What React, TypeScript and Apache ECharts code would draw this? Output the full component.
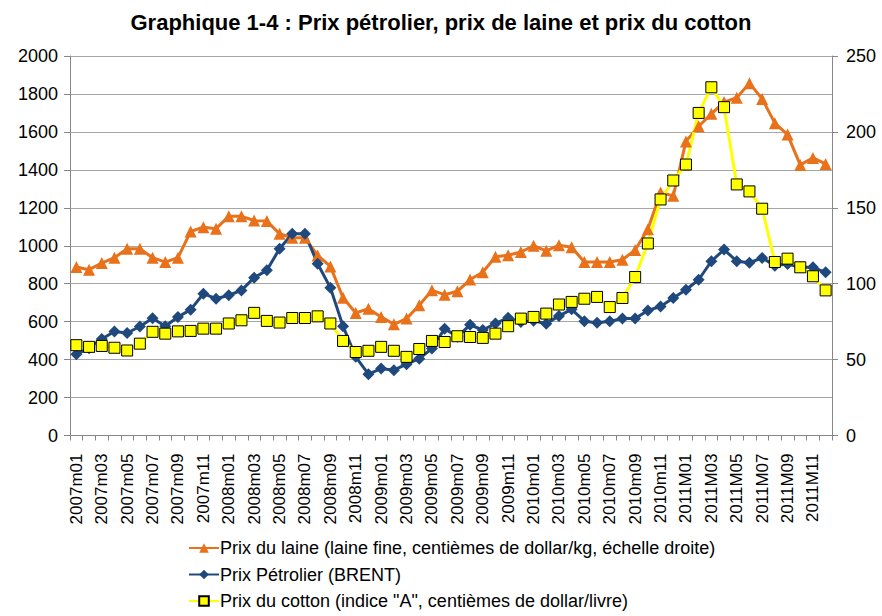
import React, { useEffect, useRef } from "react";
import * as echarts from "echarts";

const FONT = "'Liberation Sans Narrow', 'Liberation Sans', Arial, sans-serif";

const years = ["2007", "2008", "2009", "2010", "2011"];
const months = ["01", "02", "03", "04", "05", "06", "07", "08", "09", "10", "11", "12"];
const categories: string[] = [];
years.forEach((y) => months.forEach((m) => categories.push(y + (y === "2011" ? "M" : "m") + m)));

// Wool price (left axis)
const woolPrice = [888, 874, 909, 937, 984, 984, 937, 914, 937, 1075, 1098, 1090, 1155, 1155, 1133, 1130, 1063, 1042, 1042, 949, 891, 726, 646, 668, 625, 586, 616, 686, 765, 742, 760, 822, 860, 942, 950, 967, 1000, 973, 1003, 992, 914, 914, 914, 926, 978, 1087, 1281, 1263, 1550, 1630, 1695, 1757, 1780, 1857, 1774, 1646, 1586, 1426, 1463, 1431];
// Brent oil price (right axis)
const oilPrice = [53.5, 57.5, 63.6, 68.5, 67.5, 71.8, 77.3, 72, 78.1, 82.9, 93.4, 90.1, 92.4, 95.6, 104, 108.8, 123, 132.9, 132.9, 113.1, 97.4, 72, 51.8, 40.4, 44.1, 43, 47, 50.6, 57.3, 70.4, 65, 72.9, 69.5, 73.8, 77.5, 74.8, 75.6, 73.6, 78.8, 83.1, 75.3, 74.3, 75.3, 77, 77, 82.4, 85, 90.6, 96, 102.6, 114.8, 122.5, 114.8, 113.8, 117, 111.9, 113, 110.8, 110.8, 107.5];
// Cotton price (right axis)
const cottonPrice = [59.5, 58.4, 59, 57.8, 56, 60.5, 68.3, 67.1, 68.6, 68.9, 70.4, 70.4, 73.8, 75.9, 80.8, 75.5, 74.4, 77.4, 77.4, 78.5, 73.8, 62.3, 55, 55.8, 58.4, 55.8, 51.8, 57, 62.3, 61.6, 65.4, 64.9, 64.3, 67.1, 72, 77, 78.1, 80.3, 86.3, 88, 90.1, 91.3, 84.6, 90.6, 104.4, 126.5, 155.5, 168, 178.5, 212.5, 229.4, 216.3, 165.4, 160.8, 149.4, 114.3, 116.5, 110.8, 104.9, 95.6];

const leftTicks = { min: 0, max: 2000, interval: 200 };
const rightTicks = { min: 0, max: 250, interval: 50 };

const seriesNames = [
  "Prix du laine (laine fine, centièmes de dollar/kg, échelle droite)",
  "Prix Pétrolier (BRENT)",
  "Prix du cotton (indice \"A\", centièmes de dollar/livre)",
];

export default function App() {
  const ref = useRef<HTMLDivElement>(null);
  useEffect(() => {
    if (!ref.current) return;
    const chart = echarts.init(ref.current, null, { renderer: "svg" });
    const axisLineStyle = { color: "#868686", width: 1 };
    chart.setOption({
      animation: false,
      backgroundColor: "#ffffff",
      textStyle: { fontFamily: FONT },
      title: {
        text: "Graphique 1-4 : Prix pétrolier, prix de laine et prix du cotton",
        left: "center",
        top: 6,
        textStyle: { fontFamily: FONT, fontSize: 22, fontWeight: "bold", color: "#000" },
      },
      grid: { left: 70, right: 50, top: 56, bottom: 180.5, containLabel: false },
      legend: {
        orient: "vertical",
        left: 188,
        top: 539,
        height: 120,
        padding: 0,
        itemGap: 8.5,
        itemWidth: 30,
        itemHeight: 12,
        textStyle: { fontFamily: FONT, fontSize: 18, color: "#000", padding: [0, 0, 0, -4] },
        data: seriesNames,
      },
      xAxis: {
        type: "category",
        data: categories,
        boundaryGap: true,
        axisLine: { lineStyle: axisLineStyle },
        axisTick: { show: true, interval: 0, length: 5, lineStyle: axisLineStyle },
        axisLabel: { rotate: 90, interval: 1, fontSize: 17, color: "#000", margin: 18, fontFamily: FONT },
        splitLine: { show: false },
      },
      yAxis: [
        {
          type: "value",
          ...leftTicks,
          axisLine: { show: true, lineStyle: axisLineStyle },
          axisTick: { show: true, length: 6, lineStyle: axisLineStyle },
          axisLabel: { fontSize: 18, color: "#000", margin: 12, fontFamily: FONT, formatter: (v: number) => String(v) },
          splitLine: { show: true, lineStyle: { color: "#A6A6A6", width: 1 } },
        },
        {
          type: "value",
          ...rightTicks,
          axisLine: { show: true, lineStyle: axisLineStyle },
          axisTick: { show: true, length: 6, lineStyle: axisLineStyle },
          axisLabel: { fontSize: 18, color: "#000", margin: 14, fontFamily: FONT, formatter: (v: number) => String(v) },
          splitLine: { show: false },
        },
      ],
      series: [
        {
          name: seriesNames[0],
          type: "line",
          yAxisIndex: 0,
          data: woolPrice,
          symbol: "triangle",
          symbolSize: 12,
          showAllSymbol: true,
          lineStyle: { color: "#E8711A", width: 3 },
          itemStyle: { color: "#E8711A" },
        },
        {
          name: seriesNames[1],
          type: "line",
          yAxisIndex: 1,
          data: oilPrice,
          symbol: "diamond",
          symbolSize: 12,
          showAllSymbol: true,
          lineStyle: { color: "#1F497D", width: 3 },
          itemStyle: { color: "#1F497D" },
        },
        {
          name: seriesNames[2],
          type: "line",
          yAxisIndex: 1,
          data: cottonPrice,
          symbol: "rect",
          symbolSize: 11,
          showAllSymbol: true,
          lineStyle: { color: "#FFFF00", width: 3 },
          itemStyle: { color: "#FFFF00", borderColor: "#000000", borderWidth: 1 },
        },
      ],
    });
    return () => chart.dispose();
  }, []);
  return <div ref={ref} style={{ width: 882, height: 616, position: "absolute", left: 0, top: 0 }} />;
}
